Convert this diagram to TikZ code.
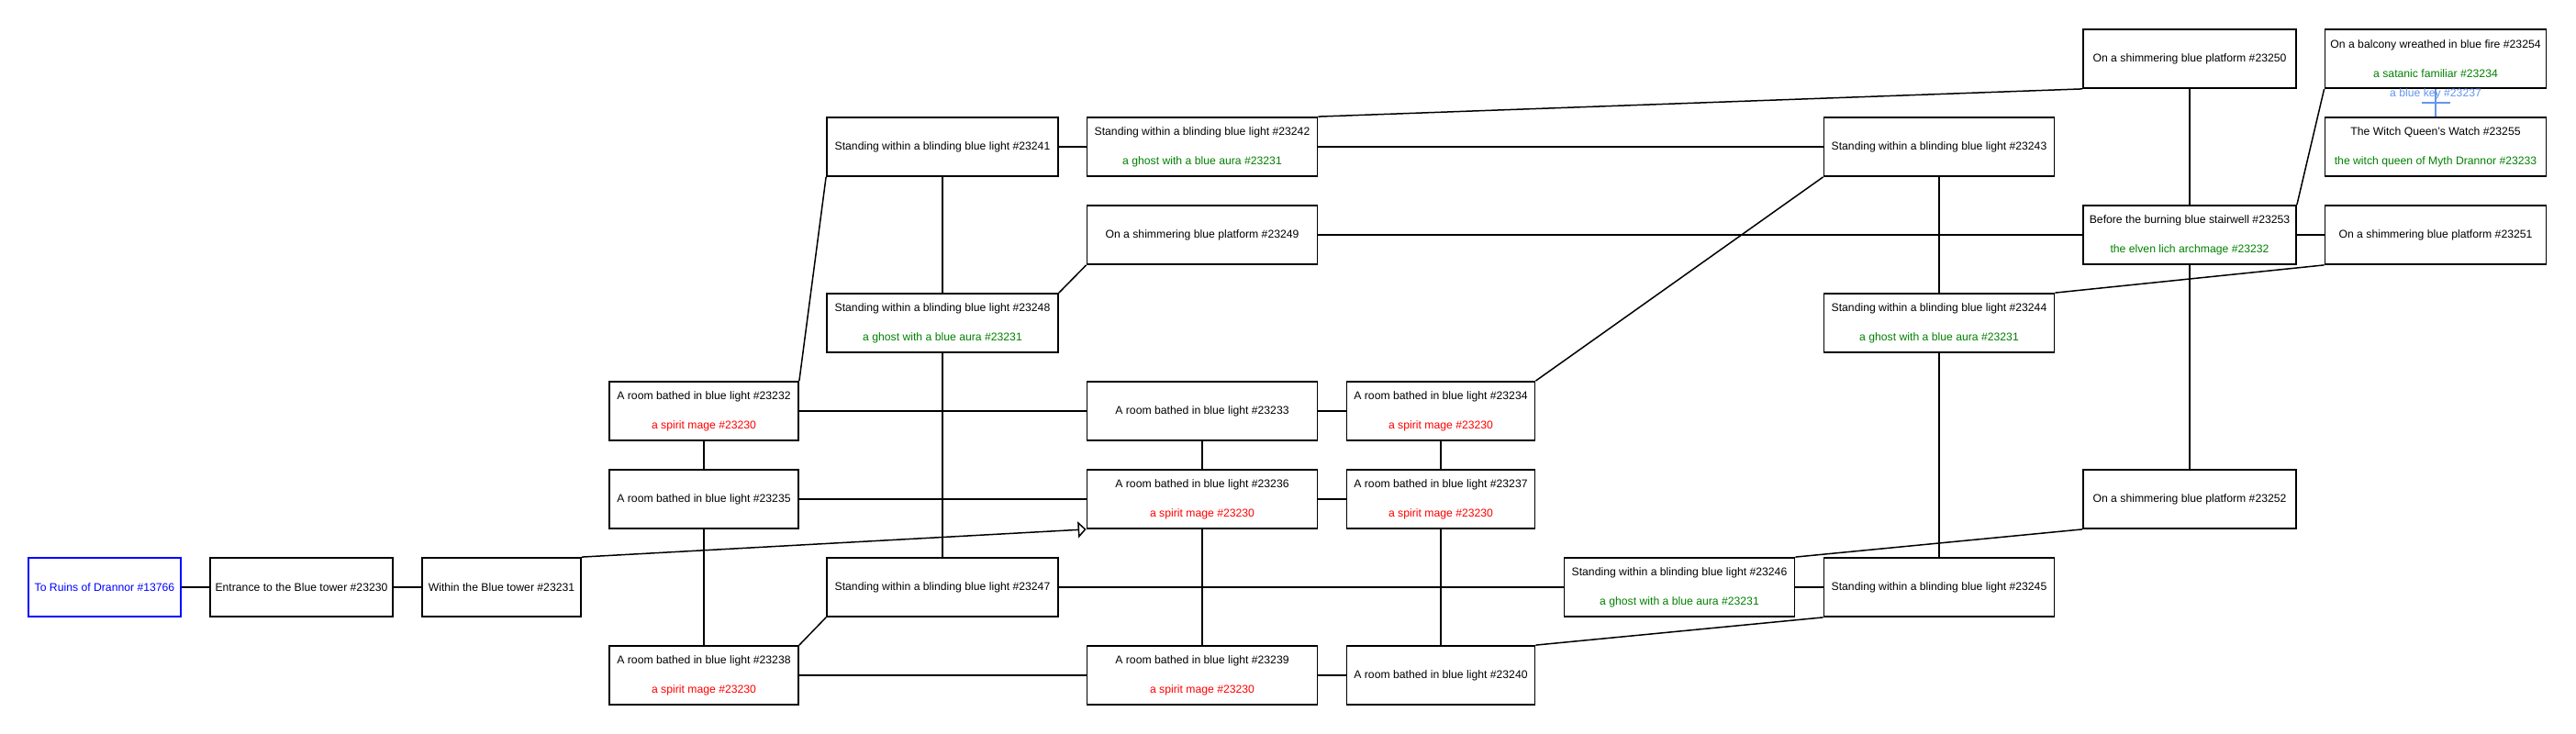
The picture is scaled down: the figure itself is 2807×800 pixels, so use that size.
\documentclass[tikz,border=0pt]{standalone}
\usepackage{fontspec}
\setmainfont{Liberation Sans}
\usetikzlibrary{arrows.meta}
\definecolor{mobred}{HTML}{FF0000}
\definecolor{mobgreen}{HTML}{008000}
\definecolor{exitblue}{HTML}{0000FF}
\definecolor{keyblue}{HTML}{6495ED}
\newcommand{\roomfont}{\fontsize{12.2}{32}\selectfont}
\newcommand{\mobR}[1]{\textcolor{mobred}{#1}}
\newcommand{\mobG}[1]{\textcolor{mobgreen}{#1}}
\begin{document}
\begin{tikzpicture}[x=1pt,y=1pt,
  room/.style={draw, line width=1.8pt, minimum height=64pt, inner sep=0pt, align=center, font=\roomfont, text=black},
  exitroom/.style={room, draw=exitblue, text=exitblue},
  wRuins/.style={minimum width=166pt},
  wEnt/.style={minimum width=199pt},
  wWithin/.style={minimum width=173pt},
  wA/.style={minimum width=206pt},
  wB/.style={minimum width=252pt},
  wC/.style={minimum width=251pt},
  wD/.style={minimum width=205pt},
  wF/.style={minimum width=232pt},
  wG/.style={minimum width=241pt},
  link/.style={line width=1.5pt, black},
  oneway/.style={link, -{Triangle[open, length=9pt, width=18pt, line width=1.5pt]}},
  keyline/.style={line width=1.5pt, keyblue},
  keylabel/.style={inner sep=0pt, font=\roomfont, text=keyblue}
]
\useasboundingbox (0,0) rectangle (2807,-800);

% left entrance chain
\node[exitroom, wRuins] (n13766) at (114,-640) {To Ruins of Drannor \#13766};
\node[room, wEnt] (n23230) at (328.5,-640) {Entrance to the Blue tower \#23230};
\node[room, wWithin] (n23231) at (546.5,-640) {Within the Blue tower \#23231};

% column A
\node[room, wA] (n23232) at (767,-448) {A room bathed in blue light \#23232\\\mobR{a spirit mage \#23230}};
\node[room, wA] (n23235) at (767,-544) {A room bathed in blue light \#23235};
\node[room, wA] (n23238) at (767,-736) {A room bathed in blue light \#23238\\\mobR{a spirit mage \#23230}};

% column B
\node[room, wB] (n23241) at (1027,-160) {Standing within a blinding blue light \#23241};
\node[room, wB] (n23248) at (1027,-352) {Standing within a blinding blue light \#23248\\\mobG{a ghost with a blue aura \#23231}};
\node[room, wB] (n23247) at (1027,-640) {Standing within a blinding blue light \#23247};

% column C
\node[room, wC] (n23242) at (1310,-160) {Standing within a blinding blue light \#23242\\\mobG{a ghost with a blue aura \#23231}};
\node[room, wC] (n23249) at (1310,-256) {On a shimmering blue platform \#23249};
\node[room, wC] (n23233) at (1310,-448) {A room bathed in blue light \#23233};
\node[room, wC] (n23236) at (1310,-544) {A room bathed in blue light \#23236\\\mobR{a spirit mage \#23230}};
\node[room, wC] (n23239) at (1310,-736) {A room bathed in blue light \#23239\\\mobR{a spirit mage \#23230}};

% column D
\node[room, wD] (n23234) at (1570,-448) {A room bathed in blue light \#23234\\\mobR{a spirit mage \#23230}};
\node[room, wD] (n23237) at (1570,-544) {A room bathed in blue light \#23237\\\mobR{a spirit mage \#23230}};
\node[room, wD] (n23240) at (1570,-736) {A room bathed in blue light \#23240};

\node[room, wC] (n23246) at (1830,-640) {Standing within a blinding blue light \#23246\\\mobG{a ghost with a blue aura \#23231}};

% column E
\node[room, wC] (n23243) at (2113,-160) {Standing within a blinding blue light \#23243};
\node[room, wC] (n23244) at (2113,-352) {Standing within a blinding blue light \#23244\\\mobG{a ghost with a blue aura \#23231}};
\node[room, wC] (n23245) at (2113,-640) {Standing within a blinding blue light \#23245};

% column F
\node[room, wF] (n23250) at (2386,-64) {On a shimmering blue platform \#23250};
\node[room, wF] (n23253) at (2386,-256) {Before the burning blue stairwell \#23253\\\mobG{the elven lich archmage \#23232}};
\node[room, wF] (n23252) at (2386,-544) {On a shimmering blue platform \#23252};

% column G
\node[room, wG] (n23254) at (2654,-64) {On a balcony wreathed in blue fire \#23254\\\mobG{a satanic familiar \#23234}};
\node[room, wG] (n23255) at (2654,-160) {The Witch Queen's Watch \#23255\\\mobG{the witch queen of Myth Drannor \#23233}};
\node[room, wG] (n23251) at (2654,-256) {On a shimmering blue platform \#23251};

% connectors
\draw[link] (n13766) -- (n23230);
\draw[link] (n23230) -- (n23231);
\draw[oneway] (n23231.north east) -- (n23236.south west);

\draw[link] (n23232) -- (n23235);
\draw[link] (n23235) -- (n23238);
\draw[link] (n23232) -- (n23233);
\draw[link] (n23235) -- (n23236);
\draw[link] (n23238) -- (n23239);
\draw[link] (n23238.north east) -- (n23247.south west);
\draw[link] (n23232.north east) -- (n23241.south west);

\draw[link] (n23241) -- (n23242);
\draw[link] (n23241) -- (n23248);
\draw[link] (n23248) -- (n23247);
\draw[link] (n23248.north east) -- (n23249.south west);
\draw[link] (n23247) -- (n23246);

\draw[link] (n23233) -- (n23234);
\draw[link] (n23233) -- (n23236);
\draw[link] (n23236) -- (n23237);
\draw[link] (n23236) -- (n23239);
\draw[link] (n23239) -- (n23240);
\draw[link] (n23234) -- (n23237);
\draw[link] (n23237) -- (n23240);
\draw[link] (n23234.north east) -- (n23243.south west);

\draw[link] (n23242) -- (n23243);
\draw[link] (n23242.north east) -- (n23250.south west);
\draw[link] (n23249) -- (n23253);

\draw[link] (n23250) -- (n23253);
\draw[link] (n23253.north east) -- (n23254.south west);
\draw[link] (n23253) -- (n23251);
\draw[link] (n23253) -- (n23252);
\draw[link] (n23251.south west) -- (n23244.north east);

\draw[link] (n23243) -- (n23244);
\draw[link] (n23244) -- (n23245);
\draw[link] (n23252.south west) -- (n23246.north east);
\draw[link] (n23246) -- (n23245);
\draw[link] (n23245.south west) -- (n23240.north east);

% locked passage with key
\coordinate (keybar) at (2654,-112);
\draw[keyline] (n23254.south) -- (n23255.north);
\draw[keyline] ([xshift=-15.5pt]keybar) -- ([xshift=15.5pt]keybar);
\node[keylabel] (keylbl) at (2654,-102) {a blue key \#23237};
\end{tikzpicture}
\end{document}
